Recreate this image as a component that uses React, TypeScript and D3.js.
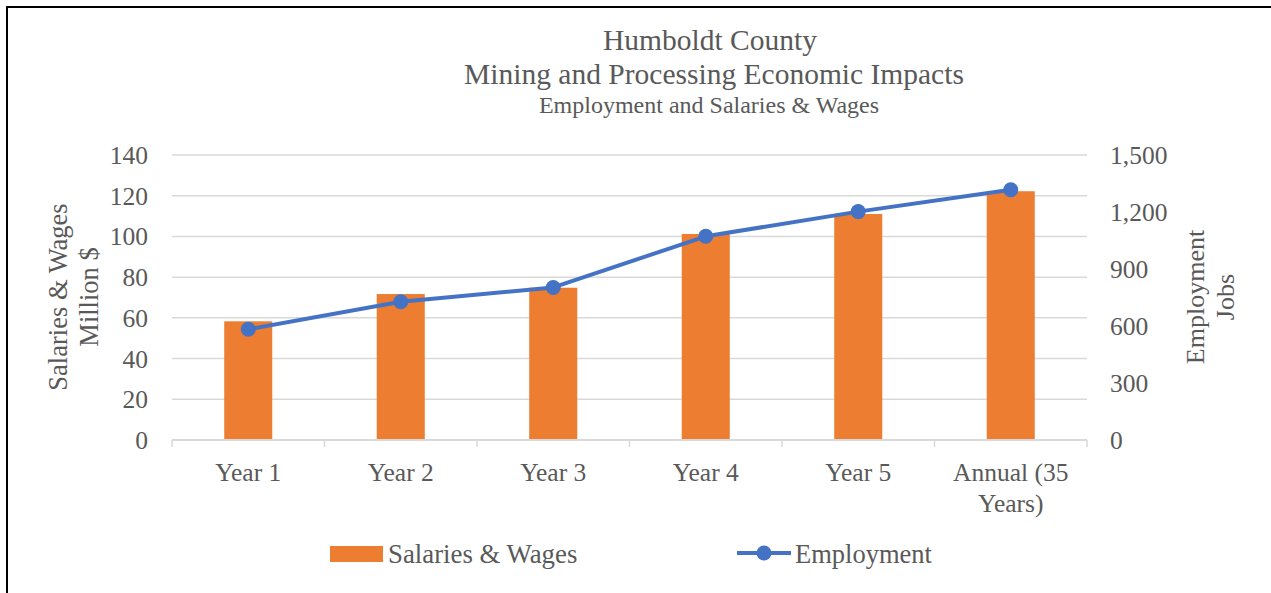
import React from "react";
import * as d3 from "d3";

const categories: string[][] = [
  ["Year 1"],
  ["Year 2"],
  ["Year 3"],
  ["Year 4"],
  ["Year 5"],
  ["Annual (35", "Years)"],
];
const salaries: number[] = [58.3, 71.7, 74.8, 101.2, 111.0, 122.2];
const employment: number[] = [583, 728, 803, 1072, 1202, 1317];
const leftTicks: number[] = [0, 20, 40, 60, 80, 100, 120, 140];
const rightTicks: number[] = [0, 300, 600, 900, 1200, 1500];
const titleLines: string[] = ["Humboldt County", "Mining and Processing Economic Impacts"];
const subtitle = "Employment and Salaries & Wages";
const leftAxisTitle: string[] = ["Salaries & Wages", "Million $"];
const rightAxisTitle: string[] = ["Employment", "Jobs"];
const legendLabels: string[] = ["Salaries & Wages", "Employment"];

const W = 1271;
const H = 593;
const FONT = "'Liberation Serif', 'Times New Roman', serif";
const TEXT = "#595959";
const GRID = "#d9d9d9";
const ORANGE = "#ed7d31";
const BLUE = "#4472c4";

export default function App() {
  const keys = categories.map((c) => c.join(" "));
  const x = d3.scaleBand<string>().domain(keys).range([172, 1087]).padding(0);
  const yL = d3.scaleLinear().domain([0, 140]).range([440, 155]);
  const yR = d3.scaleLinear().domain([0, 1500]).range([440, 155]);
  const bw = x.bandwidth() * 0.315;
  const cx = (i: number) => (x(keys[i]) as number) + x.bandwidth() / 2;

  const line = d3
    .line<number>()
    .x((_, i) => cx(i))
    .y((d) => yR(d));

  const boundaries = keys.map((k) => x(k) as number).concat([1087]);

  return (
    <svg
      width={W}
      height={H}
      style={{ position: "absolute", left: 0, top: 0, background: "#fff" }}
      fontFamily={FONT}
    >
      <rect x={0} y={0} width={W} height={H} fill="#fff" />
      {/* frame */}
      <line x1={7} y1={6} x2={7} y2={H} stroke="#000" strokeWidth={2} />
      <line x1={6} y1={7} x2={W} y2={7} stroke="#000" strokeWidth={2} />

      {/* titles */}
      <text x={710} y={49.5} textAnchor="middle" fontSize={29.5} fill={TEXT}>
        {titleLines[0]}
      </text>
      <text x={714} y={83.5} textAnchor="middle" fontSize={29.5} fill={TEXT}>
        {titleLines[1]}
      </text>
      <text x={709} y={113.3} textAnchor="middle" fontSize={24} fill={TEXT}>
        {subtitle}
      </text>

      {/* gridlines */}
      {leftTicks.slice(1).map((t) => (
        <line key={t} x1={172} x2={1087} y1={yL(t)} y2={yL(t)} stroke={GRID} strokeWidth={1.5} />
      ))}

      {/* bars */}
      {salaries.map((v, i) => (
        <rect key={i} x={cx(i) - bw / 2} y={yL(v)} width={bw} height={yL(0) - yL(v)} fill={ORANGE} />
      ))}

      {/* x axis */}
      <line x1={172} x2={1087} y1={440} y2={440} stroke={GRID} strokeWidth={2} />
      {boundaries.map((b, i) => (
        <line key={i} x1={b} x2={b} y1={440} y2={447} stroke={GRID} strokeWidth={1.5} />
      ))}

      {/* line series */}
      <path d={line(employment) || ""} fill="none" stroke={BLUE} strokeWidth={4} strokeLinejoin="round" />
      {employment.map((v, i) => (
        <circle key={i} cx={cx(i)} cy={yR(v)} r={7.5} fill={BLUE} />
      ))}

      {/* left tick labels */}
      {leftTicks.map((t) => (
        <text key={t} x={148} y={yL(t) + 9} textAnchor="end" fontSize={25.5} fill={TEXT}>
          {d3.format(",")(t)}
        </text>
      ))}
      {/* right tick labels */}
      {rightTicks.map((t) => (
        <text key={t} x={1110} y={yR(t) + 9} textAnchor="start" fontSize={25.5} fill={TEXT}>
          {d3.format(",")(t)}
        </text>
      ))}

      {/* x labels */}
      {categories.map((lines, i) =>
        lines.map((l, j) => (
          <text key={i + "-" + j} x={cx(i)} y={481 + j * 31} textAnchor="middle" fontSize={25.5} fill={TEXT}>
            {l}
          </text>
        ))
      )}

      {/* axis titles */}
      {leftAxisTitle.map((l, j) => (
        <text
          key={l}
          transform={`translate(${67 + j * 31},297) rotate(-90)`}
          textAnchor="middle"
          fontSize={26.5}
          fill={TEXT}
        >
          {l}
        </text>
      ))}
      {rightAxisTitle.map((l, j) => (
        <text
          key={l}
          transform={`translate(${1204 + j * 30},297) rotate(-90)`}
          textAnchor="middle"
          fontSize={26}
          fill={TEXT}
        >
          {l}
        </text>
      ))}

      {/* legend */}
      <rect x={330} y={546} width={53} height={16} fill={ORANGE} />
      <text x={388} y={563} fontSize={26.8} fill={TEXT}>
        {legendLabels[0]}
      </text>
      <line x1={737} x2={791} y1={553} y2={553} stroke={BLUE} strokeWidth={4} />
      <circle cx={764} cy={553} r={7.5} fill={BLUE} />
      <text x={795} y={563} fontSize={26.5} fill={TEXT}>
        {legendLabels[1]}
      </text>
    </svg>
  );
}
